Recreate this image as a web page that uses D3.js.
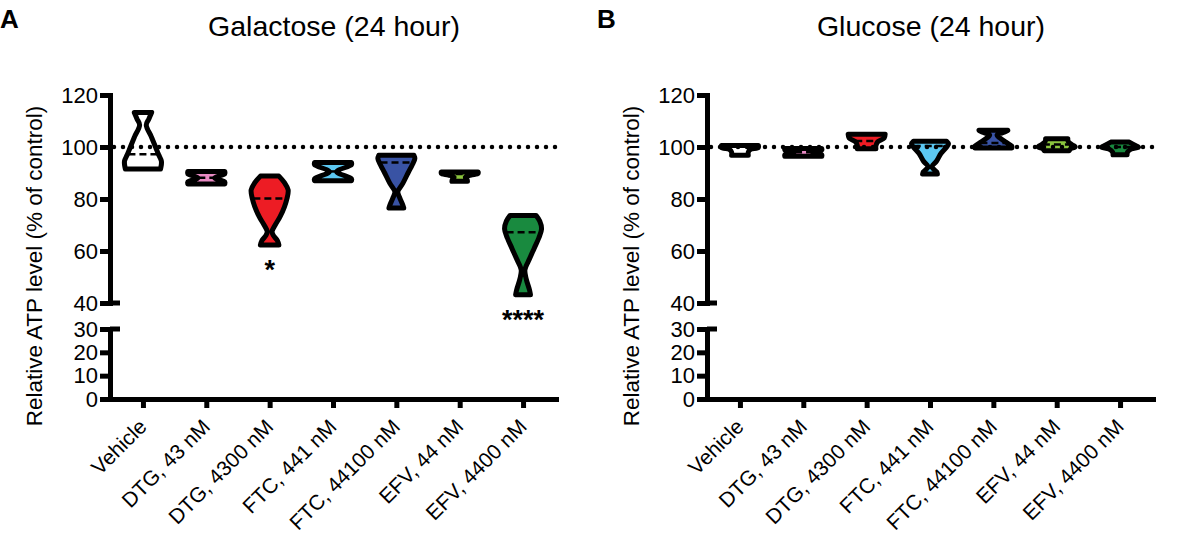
<!DOCTYPE html>
<html>
<head>
<meta charset="utf-8">
<script src="https://cdn.jsdelivr.net/npm/d3@7"></script>
<style>
  body { margin: 0; background: #fff; }
  text { font-family: "Liberation Sans", Arial, sans-serif; fill: #000; }
</style>
</head>
<body>
<div id="chart"></div>
<script>
const width = 1182;
const height = 541;

// categories on the x axis
const categories = ["Vehicle", "DTG, 43 nM", "DTG, 4300 nM", "FTC, 441 nM",
  "FTC, 44100 nM", "EFV, 44 nM", "EFV, 4400 nM"];
const fills = ["#ffffff", "#e98bc4", "#ed1c24", "#5cc8f2", "#3953a4", "#8cc63f", "#198a3f"];

// y ticks of the broken axis
const upperTicks = [40, 60, 80, 100, 120];
const lowerTicks = [0, 10, 20, 30];

// violin outlines: [ATP %, relative density]
const galactoseViolins = [
  [[91.5, 0.95], [94.5, 1.0], [97, 0.85], [100, 0.68], [104, 0.45], [108.5, 0.18], [110.8, 0.32], [113.3, 0.47]],
  [[85.8, 1.0], [86.6, 1.0], [88.1, 0.45], [89.7, 1.0], [90.6, 1.0]],
  [[62.3, 0.5], [64, 0.42], [66, 0.2], [67.5, 0.13], [70, 0.3], [73, 0.55], [77, 0.8], [80, 0.93], [83.5, 1.0], [86.3, 0.8], [88.8, 0.5]],
  [[87, 1.0], [87.8, 1.0], [90.5, 0.2], [93.2, 1.0], [94, 1.0]],
  [[76.5, 0.4], [78, 0.33], [80.5, 0.18], [82.8, 0.08], [86, 0.35], [90, 0.63], [93, 0.85], [95.5, 1.0], [96.8, 0.95]],
  [[86.8, 0.42], [87.5, 0.4], [88.3, 0.3], [89.2, 0.6], [89.8, 1.0], [90.4, 1.0]],
  [[43.2, 0.4], [45, 0.35], [49, 0.18], [52.7, 0.1], [57, 0.35], [61, 0.6], [65, 0.85], [68.5, 1.0], [71.5, 0.9], [73.7, 0.7]]
];
const galactoseMedians = [97.2, 88.2, 80.2, 90.6, 94, 89.6, 67.2];
const galactoseStars = ["", "", "*", "", "", "", "****"];

const glucoseViolins = [
  [[96.8, 0.45], [98, 0.45], [99, 0.55], [99.8, 1.0], [100.6, 1.0]],
  [[96.4, 1.0], [97, 1.0], [98, 0.5], [98.9, 1.0], [99.4, 1.0]],
  [[99.3, 0.5], [100.5, 0.5], [102, 0.6], [103.5, 0.95], [104.9, 1.0]],
  [[89.6, 0.4], [90.5, 0.35], [92.4, 0.1], [94.5, 0.35], [97.6, 0.6], [100, 0.9], [101.2, 1.0], [102.2, 0.9]],
  [[99.6, 1.0], [100.3, 1.0], [102, 0.65], [103.5, 0.35], [104.6, 0.2], [105.5, 0.5], [106.4, 0.78]],
  [[98.6, 0.68], [99.3, 0.75], [100.1, 1.0], [101, 0.8], [102.2, 0.62], [103.2, 0.6]],
  [[97, 0.38], [98, 0.4], [99.2, 0.6], [99.9, 1.0], [100.7, 0.8], [101.9, 0.5]]
];
const glucoseMedians = [100.2, 98, 102.3, 100.4, 101.5, 101, 100];
const glucoseStars = ["", "", "", "", "", "", ""];

const svg = d3.select("#chart").append("svg")
  .attr("width", width)
  .attr("height", height);

function widthAt(profile, v) {
  for (let i = 1; i < profile.length; i++) {
    const a = profile[i - 1], b = profile[i];
    if (v <= b[0]) {
      const t = (v - a[0]) / (b[0] - a[0]);
      return a[1] + (b[1] - a[1]) * Math.max(0, Math.min(1, t));
    }
  }
  return profile[profile.length - 1][1];
}

function drawPanel(offsetX, letter, title, violins, medians, stars) {
  const g = svg.append("g").attr("transform", `translate(${offsetX},0)`);

  const yUpper = d3.scaleLinear().domain([40, 120]).range([303, 95]);
  const yLower = d3.scaleLinear().domain([0, 30]).range([399, 329]);
  const x = d3.scalePoint().domain(categories).range([110, 556]).padding(0.52);
  const w = d3.scaleLinear().domain([0, 1]).range([0, 18.5]);

  g.append("text")
    .attr("x", 0).attr("y", 28)
    .style("font-size", "26px").style("font-weight", "bold")
    .text(letter);

  g.append("text")
    .attr("x", 334).attr("y", 36)
    .attr("text-anchor", "middle")
    .style("font-size", "28.5px")
    .text(title);

  g.append("text")
    .attr("transform", `translate(42,266) rotate(-90)`)
    .attr("text-anchor", "middle")
    .style("font-size", "22.5px")
    .text("Relative ATP level (% of control)");

  // violins
  const area = d3.area()
    .curve(d3.curveCatmullRom)
    .y(d => yUpper(d[0]));

  violins.forEach(function (profile, i) {
    const cx = x(categories[i]);
    g.append("path")
      .datum(profile)
      .attr("d", area.x0(d => cx - w(d[1])).x1(d => cx + w(d[1])))
      .attr("fill", fills[i])
      .attr("stroke", "#000")
      .attr("stroke-width", 5)
      .attr("stroke-linejoin", "round");

    const hw = w(widthAt(profile, medians[i]));
    g.append("line")
      .attr("x1", cx - hw + 1).attr("x2", cx + hw - 1)
      .attr("y1", yUpper(medians[i])).attr("y2", yUpper(medians[i]))
      .attr("stroke", "#000")
      .attr("stroke-width", 2.5)
      .attr("stroke-dasharray", "7,4");

    if (stars[i]) {
      g.append("text")
        .attr("x", cx).attr("y", yUpper(profile[0][0]) + 34)
        .attr("text-anchor", "middle")
        .style("font-size", "27px").style("font-weight", "bold")
        .text(stars[i]);
    }
  });

  // dotted control line at 100 %
  g.append("line")
    .attr("x1", 114).attr("x2", 558)
    .attr("y1", yUpper(100)).attr("y2", yUpper(100))
    .attr("stroke", "#000")
    .attr("stroke-width", 4.5)
    .attr("stroke-linecap", "round")
    .attr("stroke-dasharray", "0,9");

  // broken y axis
  const axisUpper = g.append("g")
    .attr("transform", "translate(110,0)")
    .call(d3.axisLeft(yUpper).tickValues(upperTicks).tickSize(10).tickSizeOuter(0).tickPadding(2));
  const axisLower = g.append("g")
    .attr("transform", "translate(110,0)")
    .call(d3.axisLeft(yLower).tickValues(lowerTicks).tickSize(10).tickSizeOuter(0).tickPadding(2));

  [axisUpper, axisLower].forEach(function (ax) {
    ax.select(".domain").attr("stroke-width", 5).attr("stroke-linecap", "square");
    ax.selectAll(".tick line").attr("stroke-width", 5);
    ax.selectAll(".tick text").style("font-size", "22px")
      .style("font-family", '"Liberation Sans", Arial, sans-serif');
  });

  // end caps at the break
  [yUpper(40), yLower(30)].forEach(function (yy) {
    g.append("line")
      .attr("x1", 110).attr("x2", 120)
      .attr("y1", yy).attr("y2", yy)
      .attr("stroke", "#000").attr("stroke-width", 5);
  });

  // x axis
  const axisX = g.append("g")
    .attr("transform", `translate(0,${yLower(0)})`)
    .call(d3.axisBottom(x).tickSize(9).tickSizeOuter(0).tickFormat(""));
  axisX.select(".domain").attr("stroke-width", 5).attr("stroke-linecap", "square");
  axisX.selectAll(".tick line").attr("stroke-width", 5);

  g.selectAll(".xlabel")
    .data(categories)
    .enter().append("text")
    .attr("class", "xlabel")
    .attr("text-anchor", "end")
    .attr("transform", d => `translate(${x(d) + 5},${yLower(0) + 29}) rotate(-45)`)
    .style("font-size", "21px")
    .text(d => d);
}

drawPanel(0, "A", "Galactose (24 hour)", galactoseViolins, galactoseMedians, galactoseStars);
drawPanel(597, "B", "Glucose (24 hour)", glucoseViolins, glucoseMedians, glucoseStars);
</script>
</body>
</html>
